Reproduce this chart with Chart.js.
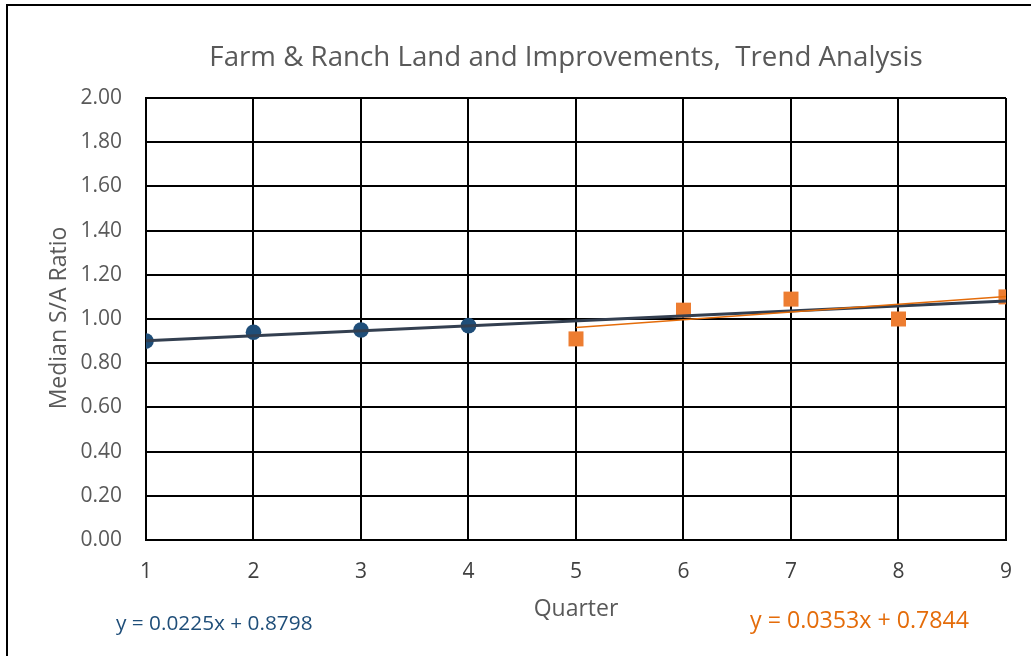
<!DOCTYPE html>
<html>
<head>
<meta charset="utf-8">
<script src="https://cdn.jsdelivr.net/npm/chart.js@4/dist/chart.umd.min.js"></script>
<style>
    html, body { margin: 0; padding: 0; background: #fff; overflow: hidden; }
    #trendChart { display: block; }
</style>
</head>
<body>
<canvas id="trendChart" width="1031" height="656"></canvas>
<script>
// values
var quarters1 = [1, 2, 3, 4];
var ratios1 = [0.90, 0.94, 0.95, 0.97];
var quarters2 = [5, 6, 7, 8, 9];
var ratios2 = [0.91, 1.04, 1.09, 1.00, 1.10];

// trend line ends (match the equations printed on the chart)
var trend1X = [1, 9];
var trend1Y = [0.902, 1.082];
var trend2X = [5, 9];
var trend2Y = [0.961, 1.102];

var yTickLabels = ['0.00', '0.20', '0.40', '0.60', '0.80', '1.00', '1.20', '1.40', '1.60', '1.80', '2.00'];
var xTickLabels = ['1', '2', '3', '4', '5', '6', '7', '8', '9'];

var chartTitle = 'Farm & Ranch Land and Improvements,  Trend Analysis';
var xTitle = 'Quarter';
var yTitle = 'Median S/A Ratio';
var equation1 = 'y = 0.0225x + 0.8798';
var equation2 = 'y = 0.0353x + 0.7844';

var fontName = "'Open Sans', 'Liberation Sans', sans-serif";

function toPoints(xs, ys) {
    var pts = [];
    for (var i = 0; i < xs.length; i++) {
        pts.push({ x: xs[i], y: ys[i] });
    }
    return pts;
}

// titles, equations and the outer frame
var textPlugin = {
    id: 'textPlugin',
    afterDraw: function (chart) {
        var ctx = chart.ctx;
        ctx.save();

        ctx.strokeStyle = '#000';
        ctx.lineWidth = 2;
        ctx.beginPath();
        ctx.moveTo(7, 660);
        ctx.lineTo(7, 5);
        ctx.lineTo(1035, 5);
        ctx.stroke();

        ctx.textBaseline = 'middle';
        ctx.textAlign = 'center';
        ctx.fillStyle = '#595959';
        ctx.font = '27.7px ' + fontName;
        ctx.fillText(chartTitle, 566, 58);

        ctx.font = '23px ' + fontName;
        ctx.fillText(xTitle, 576, 609);

        ctx.save();
        ctx.translate(59, 318);
        ctx.rotate(-Math.PI / 2);
        ctx.font = '23px ' + fontName;
        ctx.fillText(yTitle, 0, 0);
        ctx.restore();

        ctx.textAlign = 'left';
        ctx.font = '20.8px ' + fontName;
        ctx.fillStyle = '#1F4E79';
        ctx.fillText(equation1, 116, 624);

        ctx.font = '23.2px ' + fontName;
        ctx.fillStyle = '#E46C0A';
        ctx.fillText(equation2, 750, 621);

        ctx.restore();
    }
};

var ctx = document.getElementById('trendChart').getContext('2d');

var data = {
    datasets: [{
        label: 'Trend 1',
        data: toPoints(trend1X, trend1Y),
        borderColor: '#333F50',
        borderWidth: 3,
        pointRadius: 0,
        order: 1
    }, {
        label: 'Trend 2',
        data: toPoints(trend2X, trend2Y),
        borderColor: '#E46C0A',
        borderWidth: 1.5,
        pointRadius: 0,
        order: 0
    }, {
        label: 'Series 1',
        data: toPoints(quarters1, ratios1),
        showLine: false,
        pointStyle: 'circle',
        pointRadius: 7.8,
        backgroundColor: '#1F4E79',
        borderColor: '#1F4E79',
        borderWidth: 0,
        order: 2
    }, {
        label: 'Series 2',
        data: toPoints(quarters2, ratios2),
        showLine: false,
        pointStyle: 'rect',
        pointRadius: 10.6,
        backgroundColor: '#ED7D31',
        borderColor: '#ED7D31',
        borderWidth: 0,
        order: 3
    }]
};

var options = {
    responsive: false,
    animation: false,
    devicePixelRatio: 1,
    layout: {
        padding: { left: 0, top: 98, right: 25, bottom: 0 }
    },
    plugins: {
        legend: { display: false },
        title: { display: false },
        tooltip: { enabled: false }
    },
    scales: {
        x: {
            type: 'linear',
            min: 1,
            max: 9,
            afterFit: function (scale) { scale.height = 116; },
            afterBuildTicks: function (scale) {
                scale.ticks = xTickLabels.map(function (t) { return { value: Number(t) }; });
            },
            ticks: {
                padding: 19,
                color: '#404040',
                font: { family: fontName, size: 21 },
                maxRotation: 0,
                callback: function (value, index) { return xTickLabels[index]; }
            },
            grid: { color: '#000', lineWidth: 2, drawTicks: false },
            border: { color: '#000', width: 2 }
        },
        y: {
            min: 0,
            max: 2,
            afterFit: function (scale) { scale.width = 146; },
            afterBuildTicks: function (scale) {
                scale.ticks = yTickLabels.map(function (t) { return { value: Number(t) }; });
            },
            ticks: {
                padding: 24,
                color: '#595959',
                font: { family: fontName, size: 21 },
                callback: function (value, index) { return yTickLabels[index]; }
            },
            grid: { color: '#000', lineWidth: 2, drawTicks: false },
            border: { color: '#000', width: 2 }
        }
    }
};

var myChart = new Chart(ctx, {
    type: 'line',
    data: data,
    options: options,
    plugins: [textPlugin]
});
</script>
</body>
</html>
